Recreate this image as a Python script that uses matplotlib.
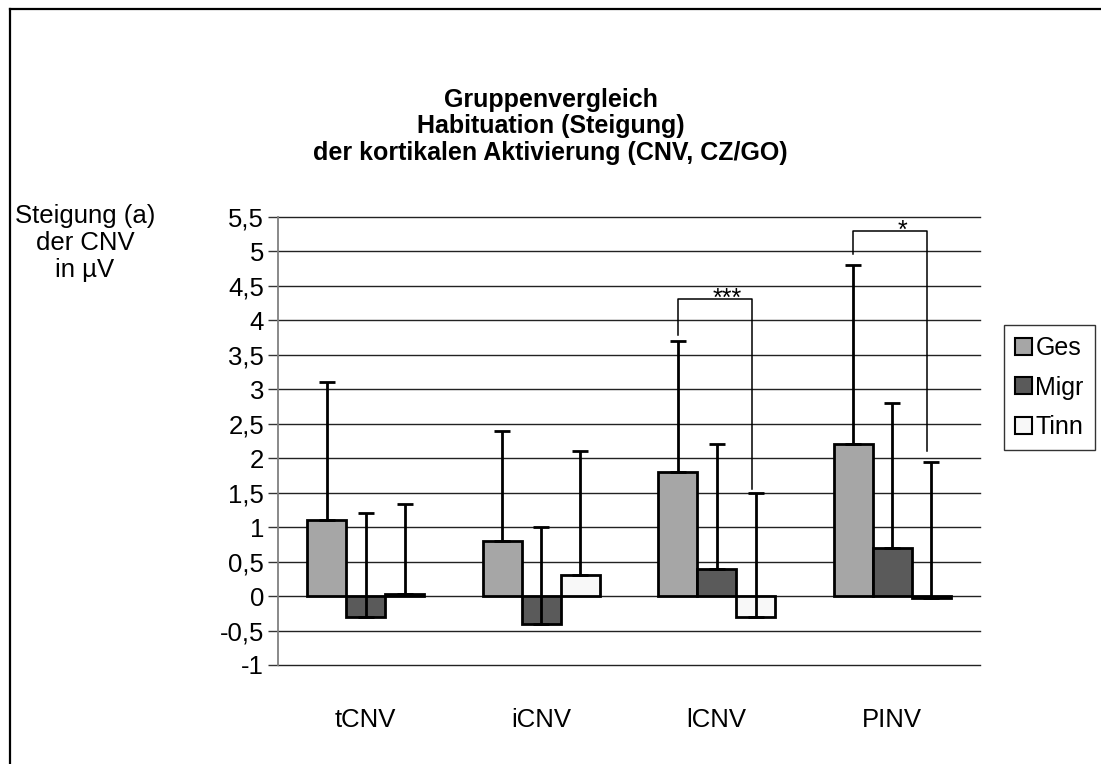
import matplotlib
matplotlib.use("Agg")
import matplotlib.pyplot as plt
from matplotlib.lines import Line2D
from matplotlib.patches import Patch
import numpy as np

plt.rcParams['font.family'] = ['Liberation Sans', 'DejaVu Sans']

categories = ["tCNV", "iCNV", "lCNV", "PINV"]
series_names = ["Ges", "Migr", "Tinn"]
ges_mean = [1.1, 0.8, 1.8, 2.2]
migr_mean = [-0.3, -0.4, 0.4, 0.7]
tinn_mean = [0.03, 0.3, -0.3, -0.03]
ges_sd = [2.0, 1.6, 1.9, 2.6]
migr_sd = [1.5, 1.4, 1.8, 2.1]
tinn_sd = [1.3, 1.8, 1.8, 1.98]
yticks = [-1, -0.5, 0, 0.5, 1, 1.5, 2, 2.5, 3, 3.5, 4, 4.5, 5, 5.5]
ytick_labels = ["-1", "-0,5", "0", "0,5", "1", "1,5", "2", "2,5", "3", "3,5", "4", "4,5", "5", "5,5"]
title_lines = ["Gruppenvergleich", "Habituation (Steigung)",
               "der kortikalen Aktivierung (CNV, CZ/GO)"]
ylabel_lines = ["Steigung (a)", "der CNV", "in µV"]
# significance brackets: (category, left-leg bottom, top, right-leg bottom, label)
sig_cat = [2, 3]
sig_left_bottom = [3.79, 4.96]
sig_top = [4.31, 5.30]
sig_right_bottom = [1.56, 2.11]
sig_labels = ["***", "*"]

colors = ["#a6a6a6", "#5a5a5a", "#f8f8f8"]

W, H = 1101, 764
fig = plt.figure(figsize=(W / 100, H / 100), dpi=100)
fig.patch.set_facecolor("white")

def fx(px):
    return px / W

def fy(py):
    return 1 - py / H

ax = fig.add_axes([fx(278), fy(665), fx(980) - fx(278), fy(217) - fy(665)])
x = np.arange(len(categories))
w = 1 / 4.5
means = [ges_mean, migr_mean, tinn_mean]
sds = [ges_sd, migr_sd, tinn_sd]
for i, (m, s) in enumerate(zip(means, sds)):
    xs = x + (i - 1) * w
    ax.bar(xs, m, width=w, color=colors[i], edgecolor="black", linewidth=2.0,
           zorder=3, label=series_names[i])
    ax.errorbar(xs, m, yerr=[np.zeros(len(m)), s], fmt="none", ecolor="black",
                elinewidth=2.0, capsize=6, capthick=2.0, zorder=4)

for c, lb, top, rb, lab in zip(sig_cat, sig_left_bottom, sig_top, sig_right_bottom, sig_labels):
    xl = c - w
    xr = c + 0.2
    ax.plot([xl, xl, xr, xr], [lb, top, top, rb], color="black", lw=1.1, zorder=5)
    ax.text((xl + xr) / 2 + 0.07, top - 0.17, lab, ha="center", va="bottom",
            fontsize=18, zorder=6)

ax.set_xlim(-0.5, len(categories) - 0.5)
ax.set_ylim(-1, 5.5)
ax.set_yticks(yticks)
ax.set_yticklabels(ytick_labels, fontsize=18.5)
ax.set_xticks(x)
ax.set_xticklabels(categories, fontsize=18.5)
ax.tick_params(axis="x", length=0, pad=31)
ax.tick_params(axis="y", length=7, width=1, color="#333333", pad=3)
ax.yaxis.grid(True, color="#222222", linewidth=1.0, zorder=0)
ax.set_axisbelow(True)
for gl in ax.get_ygridlines():
    gl.set_clip_on(False)
for sp in ["top", "right", "bottom"]:
    ax.spines[sp].set_visible(False)
ax.spines["left"].set_color("#808080")
ax.spines["left"].set_linewidth(1.3)

for i, t in enumerate(title_lines):
    fig.text(fx(550.5), fy(100 + i * 26.5), t, ha="center", va="center",
             fontsize=18, fontweight="bold")

for i, t in enumerate(ylabel_lines):
    fig.text(fx(85), fy(216 + i * 27), t, ha="center", va="center", fontsize=18.5)

handles = [Patch(facecolor=colors[i], edgecolor="black", linewidth=1.5) for i in range(3)]
leg = fig.legend(handles, series_names, loc="center",
                 bbox_to_anchor=(fx(1049.5), fy(387.5)), fontsize=18,
                 frameon=True, fancybox=False, shadow=False, handlelength=0.65,
                 handleheight=0.65, handletextpad=0.15, borderpad=0.45,
                 labelspacing=0.62, borderaxespad=0)
leg.get_frame().set_edgecolor("black")
leg.get_frame().set_linewidth(1.0)

fig.add_artist(Line2D([fx(9.5), fx(9.5)], [0, fy(8.5)], color="black", lw=1.6))
fig.add_artist(Line2D([fx(9.5), 1], [fy(8.5), fy(8.5)], color="black", lw=1.6))

fig.savefig("out.png", dpi=100)
